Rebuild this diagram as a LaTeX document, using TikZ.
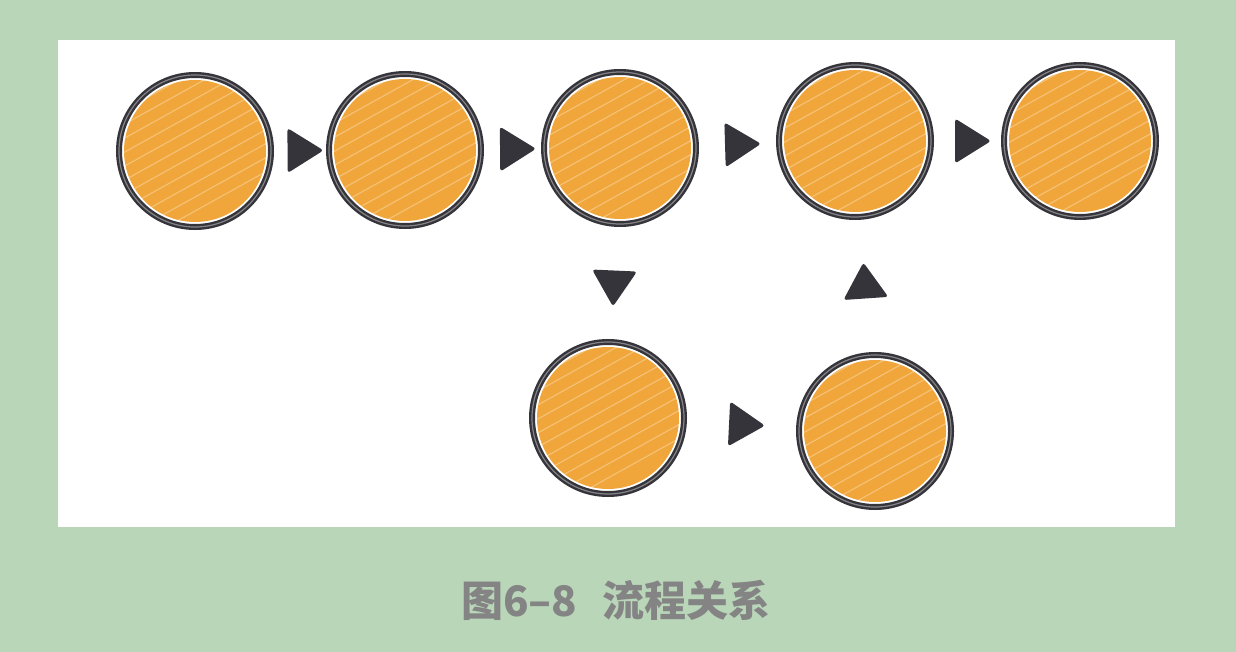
\documentclass[tikz,border=0pt]{standalone}
\usepackage{fontspec}
\newfontfamily\cjk{Noto Sans CJK SC}
\usetikzlibrary{shapes.geometric}
\definecolor{bggreen}{RGB}{185,214,185}
\definecolor{dotorange}{RGB}{240,166,58}
\definecolor{ink}{RGB}{52,52,58}
\definecolor{captiongray}{RGB}{132,132,132}
\tikzset{
    dot/.style={circle, draw=ink, line width=2.4pt, double=ink!60, double distance=1.2pt,
        fill=white, minimum size=152pt, inner sep=0pt,
        path picture={
            \fill[dotorange] (path picture bounding box.center) circle (71pt);
            \foreach \k in {-84,-70,...,70}
                \draw[white, opacity=0.3, line width=1.2pt]
                    ([shift={(-90,\k+40)}]path picture bounding box.center) -- ++(180,-100);
        }},
    tri/.style={isosceles triangle, isosceles triangle apex angle=64, fill=ink,
        minimum size=36pt, inner sep=0pt, rounded corners=3pt, sloped, allow upside down}
}
\begin{document}
\begin{tikzpicture}[x=1pt, y=-1pt]
    \fill[bggreen] (0,0) rectangle (1236,652);
    \useasboundingbox (0,0) rectangle (1236,652);
    \fill[white] (58,40) rectangle (1175,527);

    \node[dot] (s1) at (195,151) {};
    \node[dot] (s2) at (405,150) {};
    \node[dot] (s3) at (620,148) {};
    \node[dot] (s4) at (855,141) {};
    \node[dot] (s5) at (1080,141) {};
    \node[dot] (s6) at (608,418) {};
    \node[dot] (s7) at (875,431) {};

    \path (s1) -- node[tri] {} (s2);
    \path (s2) -- node[tri] {} (s3);
    \path (s3) -- node[tri] {} (s4);
    \path (s4) -- node[tri] {} (s5);
    \path (s3) -- node[tri] {} (s6);
    \path (s6) -- node[tri] {} (s7);
    \path (s7) -- node[tri] {} (s4);

    \node[text=captiongray, font=\cjk\bfseries\fontsize{42pt}{48pt}\selectfont] (caption) at (616,600) {图6–8\hspace{0.6em}流程关系};
\end{tikzpicture}
\end{document}
